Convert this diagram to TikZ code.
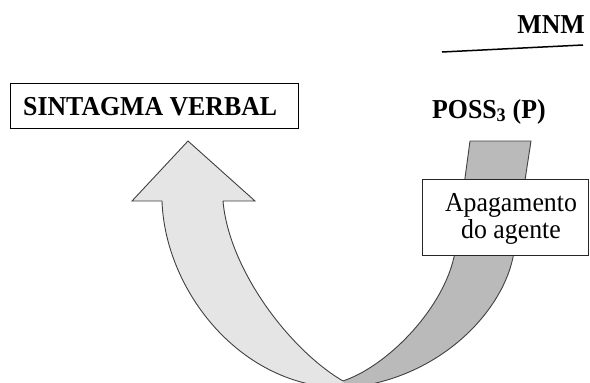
\documentclass[tikz,border=0pt]{standalone}
\usepackage{fontspec}
\setmainfont{Liberation Serif}
\newcommand{\vstretch}[1]{\scalebox{1}[1.06]{#1}}
\begin{document}
\begin{tikzpicture}[x=1pt,y=-1pt,
  lbl/.style={inner sep=0pt,font=\fontsize{25.8}{27}\selectfont},
  blbl/.style={lbl,font=\fontsize{25.8}{27}\selectfont\bfseries},
  arrowshape/.style={draw=black!75,line width=0.9pt,line join=miter},
  lightfill/.style={arrowshape,fill=black!10},
  darkfill/.style={arrowshape,fill=black!27}]
\useasboundingbox (0,0) rectangle (590,383);
\begin{scope}
\clip (0,0) rectangle (590,383);
% dark arrow (rising to POSS)
\fill[black!27] (470,141) -- (531,141) -- (514,252)
  .. controls (505,310) and (440,380) .. (345,388)
  -- (343,381) .. controls (390,365) and (446,305) .. (455,252) -- cycle;
\draw[arrowshape] (470,141) -- (531,141) -- (514,252)
  .. controls (505,310) and (440,380) .. (345,388);
\draw[arrowshape] (343,381) .. controls (390,365) and (446,305) .. (455,252) -- (470,141);
% light arrow (pointing up to SINTAGMA VERBAL)
\draw[lightfill] (343,381) .. controls (290,350) and (229,270) .. (223,201)
  -- (255,201) -- (188,141) -- (132,201) -- (162,201)
  .. controls (165,290) and (240,388) .. (345,388);
\end{scope}
% boxes and labels
\node[draw=black,line width=1.3pt,minimum width=288pt,minimum height=45pt,anchor=north west]
  (svbox) at (10,83) {};
\node[blbl,anchor=base west] (sv) at (23,115) {\vstretch{SINTAGMA VERBAL}};
\node[draw=black!85,line width=0.9pt,fill=white,minimum width=166pt,minimum height=76pt,anchor=north west]
  (ap) at (422,179) {};
\node[lbl,anchor=base] (ap1) at (511,211) {\vstretch{Apagamento}};
\node[lbl,anchor=base] (ap2) at (511,238) {\vstretch{do agente}};
\node[blbl,anchor=base west] (poss) at (432,118) {\vstretch{POSS\textsubscript{3} (P)}};
\node[blbl,anchor=base east] (mnm) at (585,33) {\vstretch{MNM}};
\coordinate (l1) at (442,52);
\coordinate (l2) at (583,45);
\draw[line width=1.5pt] (l1) -- (l2);
\end{tikzpicture}
\end{document}
